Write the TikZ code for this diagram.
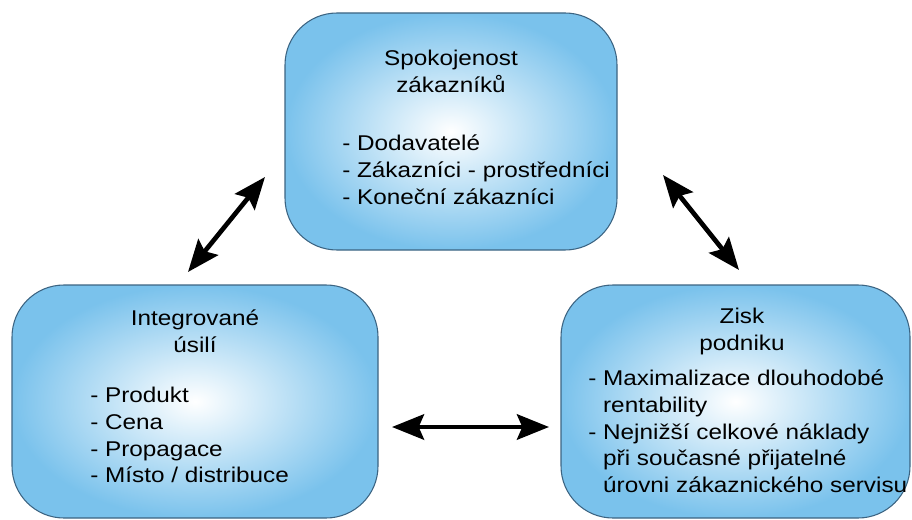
\documentclass[tikz,border=0pt]{standalone}
\usepackage{fontspec}
\setmainfont{Liberation Sans}[FakeStretch=1.14]
\usetikzlibrary{arrows.meta}

\definecolor{boxblue}{RGB}{122,194,236}
\definecolor{boxedge}{RGB}{60,100,130}

\tikzset{
  goalbox/.style={draw=boxedge, line width=0.8pt, rounded corners=39pt,
    inner color=white, outer color=boxblue, inner sep=0pt},
  boxtitle/.style={align=center, anchor=north, inner sep=0pt,
    font=\fontsize{16}{20}\selectfont},
  boxlist/.style={align=left, anchor=north west, inner sep=0pt,
    font=\fontsize{16}{20}\selectfont},
  linkarrow/.style={line width=3.5pt,
    {Stealth[length=24pt,width=19pt,inset=4pt]}-{Stealth[length=24pt,width=19pt,inset=4pt]}}
}

\begin{document}
\begin{tikzpicture}[x=0.75pt, y=-0.75pt]

  \useasboundingbox (0,0) rectangle (912,520);

  % ---- Spokojenost zakazniku ----
  \node[goalbox, minimum width=249pt, minimum height=177.75pt] (cust) at (451,131.5) {};
  \node[boxtitle] (custtitle) at (451,50) {Spokojenost\\zákazníků};
  \node[boxlist] (custlist) at (342,135)
    {- Dodavatelé\\- Zákazníci - prostředníci\\- Koneční zákazníci};

  % ---- Integrovane usili ----
  \node[goalbox, minimum width=274.5pt, minimum height=174.75pt] (effort) at (195,401.5) {};
  \node[boxtitle] (efforttitle) at (195,310) {Integrované\\úsilí};
  \node[boxlist] (effortlist) at (90,387)
    {- Produkt\\- Cena\\- Propagace\\- Místo / distribuce};

  % ---- Zisk podniku ----
  \node[goalbox, minimum width=261.75pt, minimum height=174.75pt] (profit) at (735.5,401.5) {};
  \node[boxtitle] (profittitle) at (742,308) {Zisk\\podniku};
  \node[boxlist] (profitlist) at (588,370)
    {- Maximalizace dlouhodobé\\\hphantom{- }rentability\\- Nejnižší celkové náklady\\%
     \hphantom{- }při současné přijatelné\\\hphantom{- }úrovni zákaznického servisu};

  % arrow ends
  \coordinate (effortend) at (188,272);
  \coordinate (custendl)  at (265,177);
  \coordinate (custendr)  at (663,175);
  \coordinate (profitend) at (739,270);
  \coordinate (effortendr) at (392,427);
  \coordinate (profitendl) at (549,427);

  % links between the boxes
  \draw[linkarrow] (effortend) -- (custendl);
  \draw[linkarrow] (custendr) -- (profitend);
  \draw[linkarrow] (effortendr) -- (profitendl);

\end{tikzpicture}
\end{document}
